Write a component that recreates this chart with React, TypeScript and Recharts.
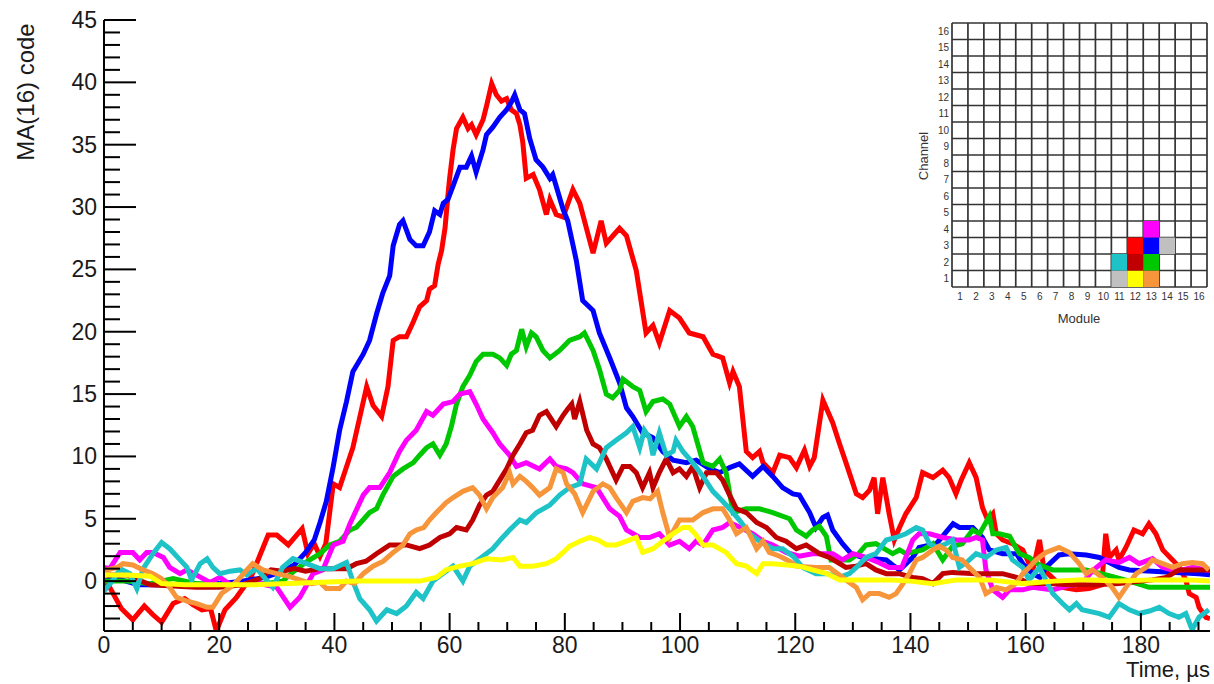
import React from 'react';
import { LineChart, Line, XAxis, YAxis, ScatterChart, Scatter, ReferenceLine } from 'recharts';

type Pt = [number, number];

const FONT = '"Liberation Sans", Arial, Helvetica, sans-serif';

// axis ranges: time in µs, amplitude in MA(16) codes
const T_MAX = 192;
const Y_MIN = -4;
const Y_MAX = 45;
const xTicks = Array.from({ length: 39 }, (_, i) => i * 5);
const yTicks = Array.from({ length: Y_MAX - Y_MIN + 1 }, (_, i) => Y_MIN + i);

// waveforms, [time µs, code]
const red: Pt[] = [
  [0, 0], [1, -0.5], [3, -2.2], [5, -3.1], [7, -2], [8.5, -2.7], [10, -3.3], [12, -1.8], [14, -1.4], [15.5, -1.9],
  [17, -2.3], [18.5, -2.2], [19.5, -4], [21, -2.3], [23, -1.3], [25.5, 0.3], [27, 2], [28.5, 3.7], [30, 3.7], [32, 2.9],
  [34.4, 4.2], [35.4, 2.2], [36.5, 3], [37.5, 2], [38.5, 3], [39.8, 7.8], [40.9, 7.5], [43.2, 10.7], [45.6, 15.6], [46.7, 14.1],
  [48.2, 13.2], [49.3, 15.6], [50.2, 19.3], [51.3, 19.6], [52.5, 19.6], [53.7, 20.8], [54.8, 22], [56, 22.5], [56.5, 23.4], [57.4, 23.7],
  [58, 25.4], [58.6, 26.5], [59.2, 28.3], [59.7, 30.9], [60, 32.3], [60.6, 34.6], [61.2, 36.3], [62.3, 37.2], [63.2, 36.3], [63.8, 36.6],
  [64.6, 35.8], [65.8, 37], [66.4, 38.1], [67.3, 39.9], [68.1, 39], [69, 38.5], [69.9, 38.7], [70.7, 37.8], [71.6, 37.5], [72.2, 36.6],
  [72.7, 35.2], [73.3, 32.3], [74.5, 32.6], [75.6, 31.4], [76.8, 29.4], [77.4, 30.6], [78.5, 29.4], [79.7, 29.2], [81.4, 31.4], [82.6, 30.3],
  [84.9, 26.3], [86.3, 28.9], [87.2, 27.1], [89.5, 28.3], [90.7, 27.7], [92.4, 24.9], [94.1, 19.9], [95.3, 20.5], [96.4, 19.1], [98.2, 21.7],
  [99.9, 21.1], [101.6, 19.9], [104, 19.6], [105.7, 18.2], [107.4, 17.9], [108.6, 15.9], [109.2, 16.8], [110.3, 15.6], [111.5, 10.4], [112.6, 9.9],
  [113.8, 10.4], [114.4, 9.5], [116.1, 8.7], [117.3, 10.1], [119, 9.9], [120.2, 9.1], [121.6, 10.5], [122.5, 9.2], [123.3, 9.9], [124.8, 14.5],
  [126.5, 12.7], [127.7, 11], [128.8, 9.5], [130.6, 7], [131.7, 6.7], [132.9, 7.3], [133.7, 8.3], [134.3, 5.4], [135.2, 8.3], [136.3, 5.4],
  [137.2, 3.3], [138.1, 4.3], [139.2, 5.4], [141, 6.7], [142.1, 8.7], [143.9, 8.3], [145.6, 8.9], [146.7, 8.3], [147.9, 7], [148.8, 8.1],
  [150.2, 9.5], [151.4, 8.3], [152.5, 5.9], [153.4, 4.9], [154.3, 5.4], [154.9, 3.8], [156, 3.3], [157.7, 3], [159.5, 2.5], [161.2, 0.8],
  [162.4, 3.3], [163.2, 0.9], [166.4, -0.5], [168.8, -0.7], [171, -0.6], [173.2, -0.3], [173.9, 3.8], [174.5, 1.9], [175.7, 2.5], [176.2, 1.7],
  [177.4, 2.7], [178.8, 4.1], [180.3, 3.8], [181.4, 4.6], [182.6, 3.8], [183.8, 2.5], [185.5, 1.7], [186.7, 1.1], [187.8, 0.1], [188.4, -1],
  [189.6, -1.3], [190.1, -2.1], [191.3, -2.9], [192, -3],
];

const blue: Pt[] = [
  [0, 0.3], [3, 0.1], [6, -0.3], [10, -0.3], [15, -0.3], [20, -0.2], [24, 0], [28, 0.3], [31, 0.8], [33, 1.3],
  [35, 2.3], [36.5, 3.3], [37.5, 4.7], [38.6, 6.4], [39.8, 9.2], [40.9, 12.1], [42.1, 14.4], [43.2, 16.8], [45, 18.2], [46.1, 19.3],
  [47.3, 21.4], [48.4, 23.1], [49.6, 24.5], [50.2, 26.9], [51.3, 28.6], [51.9, 28.9], [53.1, 27.4], [54.2, 26.9], [55.4, 26.9], [56.5, 28],
  [57.4, 29.7], [58.3, 29.4], [58.9, 30.3], [59.7, 30.6], [60.6, 31.7], [61.8, 33.2], [62.9, 33.2], [63.8, 34.1], [64.6, 32.8], [65.8, 34.6],
  [66.4, 35.8], [67.5, 36.4], [68.7, 37.2], [69.9, 37.8], [70.7, 38.4], [71.3, 39], [72.2, 37.8], [73, 37.5], [73.9, 35.5], [75, 33.8],
  [76.2, 33.2], [77.4, 32.3], [77.9, 32.6], [78.8, 31.2], [79.7, 29.8], [80.5, 28.9], [82, 25.7], [83.1, 22.5], [84.9, 21.7], [86, 19.9],
  [87.8, 17.9], [89.5, 15.9], [90.7, 13.9], [91.8, 13.2], [93.5, 11.9], [95.3, 11.5], [97, 10.4], [98.8, 9.7], [101.1, 9.5], [102.8, 9.7],
  [105.2, 9], [106.9, 8.7], [108.6, 9.1], [110.3, 9.4], [112.6, 8.4], [114.4, 9.2], [116.1, 8.4], [117.8, 7.5], [119.6, 7], [120.7, 6.9],
  [122.5, 5.5], [123.6, 4.3], [124.8, 5.1], [125.6, 5.3], [126.5, 4.1], [128.2, 3], [129.7, 2.2], [131.7, 1.9], [135.8, 1.7], [136.9, 1.3],
  [138.1, 0.9], [140.4, 1.9], [141.5, 2.7], [144.5, 3], [147.4, 4.6], [148.5, 4.3], [150.8, 4.3], [152.5, 3.5], [153.7, 2.5], [156, 2.2],
  [158.4, 2.2], [159.5, 1.4], [161.2, 0.6], [162.5, 0.3], [163.5, 1.1], [165.8, 2.1], [167.5, 2.2], [170.5, 2.1], [172.8, 1.9], [174.5, 1.5],
  [176.2, 1.1], [178, 0.9], [182, 0.8], [186, 0.7], [190, 0.6], [192, 0.5],
];

const green: Pt[] = [
  [0, 0], [4, 0], [8, -0.2], [12, 0.2], [16, -0.2], [20, -0.3], [24, -0.3], [28, -0.2], [31, 0], [33, 0.8],
  [35, 1.5], [37.5, 2.2], [39.2, 2.9], [40.9, 3.2], [42.7, 4.1], [43.8, 4.3], [46.1, 5.5], [47.3, 5.8], [48.4, 6.9], [50.2, 8.4],
  [51.9, 9], [53.7, 9.5], [54.8, 10.1], [56, 10.7], [57.1, 11], [58.3, 10.1], [59.4, 11], [60.3, 12.4], [61.2, 14.2], [62.3, 15.6],
  [63.5, 16.5], [64.6, 17.6], [65.8, 18.2], [67.5, 18.2], [68.7, 17.9], [69.9, 17.3], [70.7, 18.2], [71.6, 18.5], [72.5, 20.2], [73.3, 18.8],
  [74.2, 19.9], [75, 19.6], [76.2, 18.5], [77.4, 17.9], [79.1, 18.5], [80.8, 19.3], [82.6, 19.6], [83.4, 19.9], [84.9, 18.5], [86, 17],
  [87.2, 15], [88.3, 14.7], [89.5, 15.3], [90.1, 16.2], [91.8, 15.6], [93, 15.3], [94.1, 13.6], [95.3, 14.4], [97, 14.6], [98.2, 14.2],
  [99.9, 12.4], [101.1, 13.2], [102.2, 12.4], [104, 9.5], [105.7, 9.2], [106.9, 9.8], [108, 8.7], [109.2, 5.5], [111.5, 5.8], [113.8, 5.8],
  [116.1, 5.5], [119, 5], [120.2, 4.1], [121.9, 3.6], [123, 4.1], [124.2, 4.4], [125.4, 3.6], [126.2, 1.7], [129.4, 1.7], [131, 2.2],
  [132.3, 2.9], [134, 3], [135.8, 2.5], [136.9, 2.2], [138.1, 2.5], [139.2, 2.2], [142.1, 2.5], [143.9, 3], [145.6, 1.7], [147.3, 2.8],
  [149, 3], [150.8, 4.1], [152, 3.8], [153.7, 5.2], [154.3, 3.8], [155.4, 3.8], [157.2, 3.6], [158.9, 2.2], [160.6, 1.9], [162.4, 1.3],
  [164.7, 0.9], [170.5, 0.9], [174, 0.5], [178, 0], [181.4, -0.5], [186, -0.5], [192, -0.5],
];

const magenta: Pt[] = [
  [0, 1.1], [1, 1], [2.8, 2.3], [5, 2.3], [6.2, 1.7], [7.4, 2.3], [8.5, 2.3], [10.3, 1.9], [11.4, 1.1], [13.2, 0.6],
  [14.4, 0.9], [16, 0.5], [18.4, -0.1], [20.1, 0.3], [22, -0.3], [24, -0.3], [26, 0], [28, -0.3], [30, -0.5], [32.3, -2.1],
  [34, -1.3], [36.3, 0.6], [38, 0.9], [39.8, 2.9], [41.5, 3.2], [42.7, 4.6], [45, 6.9], [46.1, 7.5], [47.9, 7.5], [49.6, 8.7],
  [51.3, 10.4], [52.5, 11.3], [54.2, 12.1], [56, 13.6], [57.1, 13.3], [58.9, 14.2], [60.6, 14.4], [61.8, 15], [63.5, 15.2], [64.6, 14.2],
  [65.8, 13], [67.5, 11.9], [68.7, 11], [70.4, 10.1], [71.6, 9.2], [73.3, 9.5], [75.6, 9], [77.4, 9.8], [78.5, 9.2], [80.3, 9],
  [81.4, 8.7], [83.1, 7.8], [85.5, 7.5], [87.8, 5.8], [89.5, 5.2], [90.7, 4.1], [93, 3.5], [94.7, 3.5], [96.4, 3.8], [98.2, 2.9],
  [99.9, 3.2], [101.6, 2.6], [102.8, 3.2], [104, 2.9], [105.7, 4.1], [107.4, 4.3], [108.6, 4.7], [110.5, 4.3], [112.6, 3.8], [114.4, 3.2],
  [116.1, 2.9], [118.4, 2.3], [120.7, 2], [123, 2.2], [126.5, 2.2], [128.2, 1.7], [130, 2.2], [132.3, 1.9], [134.5, 1.5], [136.3, 1.1],
  [138.5, 1.1], [140.4, 3.3], [141.5, 3.8], [143.3, 3.8], [145.6, 3.5], [148, 3.3], [150.2, 3.3], [151.4, 3.5], [152.5, 3.3], [153.1, 0.9],
  [154.3, -0.7], [156, -1.3], [157.2, -0.7], [159.5, -0.7], [161.2, -0.5], [164.7, -0.7], [167, -0.4], [169.8, -0.2], [171.5, 0.8], [173.9, 1.7],
  [176.2, 1.5], [178, 1.9], [179.7, 1.4], [182, 1.8], [183.8, 1.1], [185.5, 0.9], [187.2, 0.9], [189, 1.1], [191.3, 0.9], [192, 0.9],
];

const darkRed: Pt[] = [
  [0, 0.5], [4, 0.5], [8, -0.3], [12, -0.4], [16, -0.5], [20, -0.5], [24, -0.3], [27, 0.2], [29, 0.9], [31, 0.8],
  [33, 1], [35, 0.8], [37.5, 1], [40, 1], [42.1, 1], [43.8, 1.4], [45.5, 1.6], [47.3, 2.2], [49.6, 2.9], [52.5, 2.9],
  [54.8, 2.6], [56.5, 2.9], [58.3, 3.5], [60, 3.8], [61.2, 4.3], [62.9, 4.1], [64, 4.9], [65.2, 6.1], [66.4, 6.9], [67.5, 7.2],
  [68.7, 8.1], [69.9, 9], [71, 10.1], [72.2, 11], [73.3, 11.9], [74.4, 12.1], [75.6, 13.3], [76.8, 13.6], [78.5, 12.4], [79.7, 13.3],
  [80.5, 13.8], [81.2, 14.2], [81.7, 13], [82.6, 14.4], [83.8, 12.1], [84.9, 11], [86, 10.7], [87.2, 9.8], [88.9, 8.1], [90.1, 9.2],
  [91.3, 9.2], [92.4, 8.7], [93.5, 7.5], [94.7, 8.7], [95.3, 7.5], [96.4, 8.7], [97.6, 9.8], [98.8, 8.7], [99.9, 9], [101.1, 8.4],
  [102.2, 9.2], [103.4, 7.5], [104.6, 8.7], [106.3, 8.7], [107.4, 8.1], [108.6, 6.9], [109.8, 5.8], [111.5, 5.5], [113.3, 4.7], [115, 4.3],
  [116.7, 3.5], [118.4, 3.2], [120.2, 2.6], [121.9, 2.9], [124.2, 2.2], [125.9, 1.9], [128.8, 1.1], [130.5, 1.2], [132.3, 1.4], [134, 0.9],
  [135.8, 0.6], [138, 0.6], [140.4, 0.3], [142.1, 0.2], [143.9, -0.2], [145.6, 0.6], [147.3, 0.7], [151.4, 0.6], [156, 0.6], [158.4, 0.3],
  [160.6, -0.2], [164.1, -0.2], [167.6, -0.3], [172, -0.3], [176.2, -0.2], [180, 0], [182, 0.1], [184.4, 0.3], [186.6, 0.9], [188.9, 0.9],
  [192, 0.9],
];

const cyan: Pt[] = [
  [0, -0.8], [1.6, 0.1], [2.8, 1], [4.5, 0.6], [5.7, -0.6], [6.8, 1], [8.5, 2.2], [10, 3.1], [11.4, 2.6], [13.2, 1.7],
  [14.4, 1.1], [15.2, 0.1], [16.7, 1.4], [17.9, 1.8], [18.9, 1.1], [20.1, 0.6], [21.9, 0.8], [23.6, 0.9], [24.8, 0.5], [26.5, 1],
  [28, 0.2], [29.3, -0.5], [31, 1.1], [32.8, 1.8], [35.2, 1.4], [37.5, 1], [39.8, 1], [42.1, 1.5], [43.2, 0], [44.4, -1.4],
  [46.1, -2.3], [47.3, -3.2], [49.1, -2.3], [50.8, -2.6], [52.5, -2], [54.2, -0.9], [55.4, -1.4], [57.1, 0], [58.8, 0.6], [60.6, 1.2],
  [62.3, 0], [63.5, 1.2], [65.8, 2], [67.5, 2.6], [69, 3.4], [70.4, 4.1], [72.2, 4.9], [73.3, 4.7], [75.1, 5.5], [77.4, 6.1],
  [79.1, 6.9], [80.8, 7.5], [82.6, 7.8], [83.7, 9.8], [85.5, 9], [87.2, 10.7], [88.9, 11.3], [90.7, 11.9], [91.8, 12.4], [93, 10.7],
  [93.8, 12.1], [94.7, 11.5], [95.3, 10.1], [96.4, 11.9], [97.6, 10.1], [98.8, 10.4], [99.3, 11.3], [100.5, 10.4], [102.2, 9.5], [104, 8.4],
  [105.7, 7.2], [107.4, 6.4], [109.2, 5.5], [110.3, 4.9], [112.1, 3.8], [113.8, 3.2], [116.1, 2.6], [117.8, 2.6], [119.6, 2], [121.3, 1.1],
  [123.6, 0.6], [125.5, 0.6], [127.7, 0.3], [129.4, 0.6], [130.6, 1.1], [132.3, 1.9], [134, 2.2], [135.8, 3.3], [137.5, 3.5], [139.2, 3.8],
  [141, 4.3], [142.1, 4.1], [143.3, 3], [144.5, 2.7], [146.2, 3], [147.3, 3.3], [148.5, 1.1], [150, 1.6], [151.4, 2.2], [153.1, 1.9],
  [154.9, 2.5], [156.6, 2.7], [157.7, 1.7], [159.5, 1.1], [160.6, 0.1], [162.4, 1.1], [164.7, -1], [166.4, -1.8], [167.6, -2.3], [168.8, -1.8],
  [169.8, -2.3], [172.8, -2.6], [174.5, -2.9], [176.2, -1.8], [178, -2.3], [179.7, -2.6], [181.5, -2.4], [183.2, -2.1], [184.9, -2.6], [186.6, -2.9],
  [187.8, -2.6], [188.9, -3.9], [190.1, -2.9], [191.8, -2.3],
];

const orange: Pt[] = [
  [0, 0.3], [0.5, 0.9], [2.3, 1.1], [3.3, 1.4], [5, 1.3], [6.8, 0.9], [8.5, 0.6], [10, 0.2], [11.4, -0.5], [12.6, -1.3],
  [14.4, -1.6], [16.1, -1.8], [17.9, -2.1], [18.9, -2.1], [20.4, -1], [21.9, -0.5], [23.3, 0.1], [24.8, 0.9], [25.8, 1.4], [27.6, 0.9],
  [30, 0.6], [32, 0.4], [34, 0.1], [36, -0.2], [37.5, -0.1], [38.6, -0.6], [40.9, -0.6], [42.1, 0], [43.5, -0.2], [45, 0.6],
  [46.7, 1.2], [48.5, 1.6], [50.2, 2.3], [51.9, 2.9], [53.1, 3.8], [54.2, 4.1], [55.5, 4.3], [56.5, 4.9], [57.7, 5.5], [59.4, 6.3],
  [60.6, 6.7], [62.3, 7.2], [64, 7.5], [65.2, 6.9], [66.4, 5.8], [67.5, 6.7], [69.2, 7.5], [70.4, 8.7], [71, 7.8], [72.2, 8.4],
  [73.3, 8], [74.4, 7.5], [75.6, 6.9], [77.4, 7.5], [78.5, 9], [79.7, 8.7], [80.3, 7.8], [81.7, 7], [83.1, 5.5], [84.9, 7.2],
  [86.6, 7.8], [87.8, 7.5], [88.9, 6.7], [90.7, 5.5], [91.8, 6.4], [93.5, 6.7], [94.8, 6.6], [96.1, 7.2], [97, 5.5], [98.2, 3.5],
  [99.9, 4.9], [102.2, 4.9], [104, 5.5], [105.7, 5.8], [107.4, 5.8], [108.6, 4.9], [109.8, 3.8], [111.5, 4.3], [113.3, 2.6], [114.4, 3.2],
  [115.5, 2.3], [117.3, 2], [119, 1.6], [120.2, 1.2], [123.6, 1.1], [125.9, 1.1], [128.8, 0.1], [130.6, -0.5], [131.7, -1.5], [132.9, -1],
  [134.6, -1], [136.3, -1.3], [137.5, -1], [138.7, -0.2], [139.8, 0.6], [141, 1.7], [142.1, 1.9], [143.9, 2.5], [145, 2.8], [146.2, 2.5],
  [147.3, 1.9], [149, 1.7], [150.2, 1.1], [152, 0.3], [153.1, -1], [154.9, -0.5], [156.6, -0.7], [158.3, -0.2], [159.5, 0.6], [160.6, 1.1],
  [161.8, 1.7], [163.5, 2.3], [165.8, 2.7], [167.6, 2.3], [169.3, 1.4], [170.5, 0.6], [171.6, 0.9], [173.5, 0.2], [175, -0.5], [176.2, -1.3],
  [177.4, -0.5], [179.2, 0.6], [180.9, 1.1], [182, 1.7], [183.8, 1.4], [185.5, 1.1], [187.2, 1.4], [188.9, 1.5], [190.7, 1.4], [191.8, 0.9],
];

const yellow: Pt[] = [
  [0, 0.5], [4, 0.5], [8, 0.4], [10, -0.2], [14, -0.3], [20, -0.3], [26, -0.3], [32, -0.2], [38, -0.1], [44, 0],
  [49, 0], [54.8, 0], [57.7, 0.3], [59.4, 0.9], [61.8, 1.2], [64, 1.4], [66.4, 1.8], [69, 1.7], [71, 1.9], [72.2, 1.2],
  [74.4, 1.2], [76.8, 1.4], [78.5, 1.8], [79.7, 2.3], [80.8, 2.8], [82.6, 3.2], [84.3, 3.5], [85.8, 3.3], [87.2, 2.9], [88.9, 2.9],
  [90.7, 3.2], [92.4, 3.5], [93.5, 2.3], [95.3, 2.6], [97, 3.2], [98.8, 3.8], [100.5, 4.3], [101.6, 4.3], [102.8, 3.7], [104, 2.9],
  [105.7, 2.9], [108, 2.3], [109.8, 1.4], [111.5, 1.2], [113.3, 0.6], [114.4, 1.4], [116.1, 1.4], [118.5, 1.3], [120.7, 1.2], [123, 0.9],
  [125.5, 0.6], [127.7, 0.1], [132, 0.1], [136.3, 0.1], [140, 0], [143.9, -0.2], [148, 0.1], [153.7, 0.1], [159.5, -0.2], [165, 0],
  [170, 0.1], [176, 0], [182, 0.1], [188, 0.1], [192, 0],
];

// drawing order: last one ends up on top
const series = [
  { id: 'm12c3', color: '#ff0000', points: red },
  { id: 'm13c3', color: '#0000ff', points: blue },
  { id: 'm13c2', color: '#00c800', points: green },
  { id: 'm13c4', color: '#ff00ff', points: magenta },
  { id: 'm12c2', color: '#c00000', points: darkRed },
  { id: 'm11c2', color: '#1ec3c8', points: cyan },
  { id: 'm13c1', color: '#f7953b', points: orange },
  { id: 'm12c1', color: '#ffff00', points: yellow },
];

// detector map: fired cells (module, channel)
const gridTicks = Array.from({ length: 16 }, (_, i) => i + 1);
const cellModules = [11, 11, 12, 12, 12, 13, 13, 13, 13, 14];
const cellChannels = [1, 2, 1, 2, 3, 1, 2, 3, 4, 3];
const cellColors = ['#c0c0c0', '#1ec3c8', '#ffff00', '#c00000', '#ff0000', '#f7953b', '#00c800', '#0000ff', '#ff00ff', '#c0c0c0'];

const MAP_W = 304;
const MAP_H = 320;
const MAP_MARGIN = { top: 1, right: 2, bottom: 15, left: 22 };
const MAP_YAXIS_W = 25;
const MAP_XAXIS_H = 40;
const CELL_W = (MAP_W - MAP_MARGIN.left - MAP_MARGIN.right - MAP_YAXIS_W) / 16;
const CELL_H = (MAP_H - MAP_MARGIN.top - MAP_MARGIN.bottom - MAP_XAXIS_H) / 16;

const toRows = (pts: Pt[]) => pts.map(([t, v]) => ({ t, v }));

const XTick = (props: any) => {
  const { x, y, payload } = props;
  const v = payload.value;
  const major = v % 20 === 0;
  return (
    <g>
      <line x1={x} y1={y} x2={x} y2={y - (major ? 18 : 9)} stroke="#000" strokeWidth={2} />
      {major && (
        <text x={x} y={y + 22} textAnchor="middle" fontSize={23} fontFamily={FONT} fill="#1a1a1a">
          {v}
        </text>
      )}
    </g>
  );
};

const YTick = (props: any) => {
  const { x, y, payload } = props;
  const v = payload.value;
  const major = v % 5 === 0;
  return (
    <g>
      <line x1={x} y1={y} x2={x + (major ? 32 : 16)} y2={y} stroke="#000" strokeWidth={2} />
      {major && (
        <text x={x - 7} y={y} dy="0.35em" textAnchor="end" fontSize={23} fontFamily={FONT} fill="#1a1a1a">
          {v}
        </text>
      )}
    </g>
  );
};

const MapXTick = (props: any) => {
  const { x, y, payload } = props;
  return (
    <text x={x} y={y + 9} dy="0.35em" textAnchor="middle" fontSize={10} fontFamily={FONT} fill="#333">
      {payload.value}
    </text>
  );
};

const MapYTick = (props: any) => {
  const { x, y, payload } = props;
  return (
    <text x={x - 3} y={y} dy="0.35em" textAnchor="end" fontSize={10} fontFamily={FONT} fill="#333">
      {payload.value}
    </text>
  );
};

const CellShape = (props: any) => {
  const { cx, cy, payload } = props;
  return <rect x={cx - CELL_W / 2} y={cy - CELL_H / 2} width={CELL_W} height={CELL_H} fill={payload.color} />;
};

const ModuleMap = () => {
  const cells = cellModules.map((m, i) => ({ m, c: cellChannels[i], color: cellColors[i] }));
  const bounds = Array.from({ length: 17 }, (_, i) => i + 0.5);
  return (
    <ScatterChart width={MAP_W} height={MAP_H} margin={MAP_MARGIN}>
      <XAxis
        dataKey="m"
        type="number"
        domain={[0.5, 16.5]}
        ticks={gridTicks}
        interval={0}
        height={MAP_XAXIS_H}
        tickSize={0}
        tickMargin={0}
        tickLine={false}
        axisLine={false}
        tick={<MapXTick />}
        label={() => (
          <text x={174} y={301} textAnchor="middle" fontSize={13} fontFamily={FONT} fill="#333">
            Module
          </text>
        )}
      />
      <YAxis
        dataKey="c"
        type="number"
        domain={[0.5, 16.5]}
        ticks={gridTicks}
        interval={0}
        width={MAP_YAXIS_W}
        tickSize={0}
        tickMargin={0}
        tickLine={false}
        axisLine={false}
        tick={<MapYTick />}
        label={() => (
          <text x={23} y={134} transform="rotate(-90 23 134)" textAnchor="middle" fontSize={13} fontFamily={FONT} fill="#333">
            Channel
          </text>
        )}
      />
      <Scatter data={cells} shape={<CellShape />} isAnimationActive={false} />
      {bounds.map((b) => (
        <ReferenceLine key={`v${b}`} x={b} stroke="#333" strokeWidth={1.7} />
      ))}
      {bounds.map((b) => (
        <ReferenceLine key={`h${b}`} y={b} stroke="#333" strokeWidth={1.7} />
      ))}
    </ScatterChart>
  );
};

export default function App() {
  return (
    <div style={{ position: 'absolute', left: 0, top: 0, width: 1214, height: 684, background: '#fff' }}>
      <LineChart width={1214} height={684} margin={{ top: 20, right: 4, bottom: 3, left: 44 }}>
        <XAxis
          dataKey="t"
          type="number"
          domain={[0, T_MAX]}
          allowDataOverflow
          ticks={xTicks}
          interval={0}
          height={50}
          tickSize={0}
          tickMargin={0}
          tickLine={false}
          axisLine={{ stroke: '#000', strokeWidth: 2 }}
          tick={<XTick />}
          label={() => (
            <text x={1210} y={677} textAnchor="end" fontSize={22} fontFamily={FONT} fill="#1a1a1a">
              Time, µs
            </text>
          )}
        />
        <XAxis
          xAxisId="top"
          orientation="top"
          type="number"
          domain={[0, T_MAX]}
          height={0}
          tick={false}
          tickLine={false}
          axisLine={{ stroke: '#000', strokeWidth: 2 }}
        />
        <YAxis
          type="number"
          domain={[Y_MIN, Y_MAX]}
          allowDataOverflow
          ticks={yTicks}
          interval={0}
          width={60}
          tickSize={0}
          tickMargin={0}
          tickLine={false}
          axisLine={{ stroke: '#000', strokeWidth: 2 }}
          tick={<YTick />}
          label={() => (
            <text x={34} y={92} transform="rotate(-90 34 92)" textAnchor="middle" fontSize={24} fontFamily={FONT} fill="#1a1a1a">
              MA(16) code
            </text>
          )}
        />
        <YAxis
          yAxisId="right"
          orientation="right"
          type="number"
          domain={[Y_MIN, Y_MAX]}
          width={0}
          tick={false}
          tickLine={false}
          axisLine={{ stroke: '#000', strokeWidth: 2 }}
        />
        {series.map((s) => (
          <Line
            key={s.id}
            data={toRows(s.points)}
            dataKey="v"
            type="linear"
            stroke={s.color}
            strokeWidth={5}
            dot={false}
            activeDot={false}
            isAnimationActive={false}
          />
        ))}
      </LineChart>
      <div style={{ position: 'absolute', left: 905, top: 22 }}>
        <ModuleMap />
      </div>
    </div>
  );
}
